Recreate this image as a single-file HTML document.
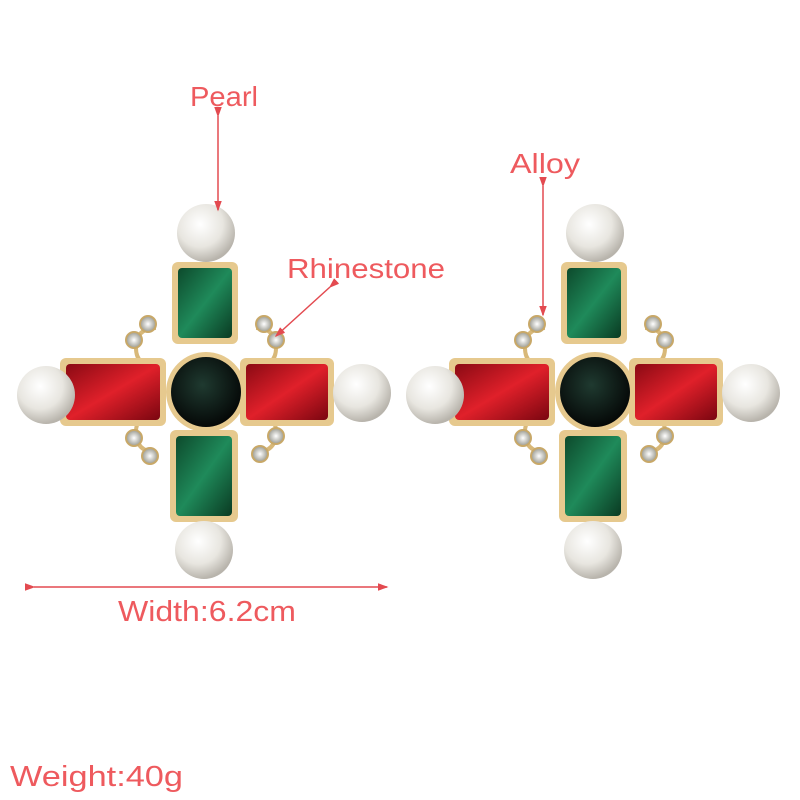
<!DOCTYPE html>
<html><head><meta charset="utf-8"><style>
body{margin:0;background:#fff}
svg{display:block}
text{font-family:"Liberation Sans",sans-serif;fill:#ee5a5e}
</style></head><body>
<svg width="800" height="800" viewBox="0 0 800 800">
<defs>
<radialGradient id="pearl" cx="40%" cy="35%" r="65%"><stop offset="0" stop-color="#ffffff"/><stop offset="0.6" stop-color="#e8e6e0"/><stop offset="1" stop-color="#b8b4ac"/></radialGradient>
<linearGradient id="green" x1="0" y1="0" x2="1" y2="1"><stop offset="0" stop-color="#0d4a2c"/><stop offset="0.5" stop-color="#1f8a5a"/><stop offset="1" stop-color="#0a3a22"/></linearGradient>
<linearGradient id="red" x1="0" y1="0" x2="1" y2="1"><stop offset="0" stop-color="#8a0a14"/><stop offset="0.5" stop-color="#e0202a"/><stop offset="1" stop-color="#7a0610"/></linearGradient>
<radialGradient id="black" cx="45%" cy="40%" r="60%"><stop offset="0" stop-color="#1f3a30"/><stop offset="1" stop-color="#050807"/></radialGradient>
<radialGradient id="rh" cx="50%" cy="50%" r="50%"><stop offset="0" stop-color="#fff"/><stop offset="1" stop-color="#9a9a90"/></radialGradient>
<g id="ear">
 <g fill="none" stroke="#d8b878" stroke-width="4">
  <path d="M-50,-62 q-20,0 -20,20 q0,18 20,18 M50,-62 q20,0 20,20 q0,18 -20,18 M-50,62 q-20,0 -20,-20 q0,-18 20,-18 M50,62 q20,0 20,-20 q0,-18 -20,-18"/>
 </g>
 <g fill="url(#rh)" stroke="#c8a868" stroke-width="2">
  <circle cx="-58" cy="-66" r="8"/><circle cx="-72" cy="-50" r="8"/><circle cx="58" cy="-66" r="8"/><circle cx="70" cy="-50" r="8"/>
  <circle cx="-72" cy="48" r="8"/><circle cx="-56" cy="66" r="8"/><circle cx="70" cy="46" r="8"/><circle cx="54" cy="64" r="8"/>
 </g>
 <rect x="-34" y="-128" width="66" height="82" rx="6" fill="#e6c98e"/>
 <rect x="-28" y="-122" width="54" height="70" rx="4" fill="url(#green)"/>
 <rect x="-36" y="40" width="68" height="92" rx="6" fill="#e6c98e"/>
 <rect x="-30" y="46" width="56" height="80" rx="4" fill="url(#green)"/>
 <rect x="-146" y="-32" width="106" height="68" rx="6" fill="#e6c98e"/>
 <rect x="-140" y="-26" width="94" height="56" rx="4" fill="url(#red)"/>
 <rect x="34" y="-32" width="94" height="68" rx="6" fill="#e6c98e"/>
 <rect x="40" y="-26" width="82" height="56" rx="4" fill="url(#red)"/>
 <circle cx="0" cy="2" r="40" fill="#e6c98e"/>
 <circle cx="0" cy="2" r="35" fill="url(#black)"/>
 <circle cx="0" cy="-157" r="29" fill="url(#pearl)"/>
 <circle cx="-2" cy="160" r="29" fill="url(#pearl)"/>
 <circle cx="-160" cy="5" r="29" fill="url(#pearl)"/>
 <circle cx="156" cy="3" r="29" fill="url(#pearl)"/>
</g>
<marker id="ah" markerWidth="7" markerHeight="7" refX="6" refY="3.5" orient="auto"><path d="M0,1 L7,3.5 L0,6 z" fill="#e34a50"/></marker>
</defs>
<use href="#ear" x="206" y="390"/>
<use href="#ear" x="595" y="390"/>
<g stroke="#e34a50" stroke-width="1.5" marker-end="url(#ah)" marker-start="url(#ah)">
 <line x1="218" y1="116" x2="218" y2="210"/>
 <line x1="330" y1="287" x2="276" y2="336"/>
 <line x1="543" y1="186" x2="543" y2="315"/>
 <line x1="34" y1="587" x2="387" y2="587"/>
</g>
<text x="190" y="106" font-size="28" textLength="68" lengthAdjust="spacingAndGlyphs">Pearl</text>
<text x="287" y="278" font-size="28" textLength="158" lengthAdjust="spacingAndGlyphs">Rhinestone</text>
<text x="510" y="173" font-size="28" textLength="70" lengthAdjust="spacingAndGlyphs">Alloy</text>
<text x="118" y="621" font-size="29" textLength="178" lengthAdjust="spacingAndGlyphs">Width:6.2cm</text>
<text x="10" y="786" font-size="29" textLength="173" lengthAdjust="spacingAndGlyphs">Weight:40g</text>
</svg>
</body></html>
